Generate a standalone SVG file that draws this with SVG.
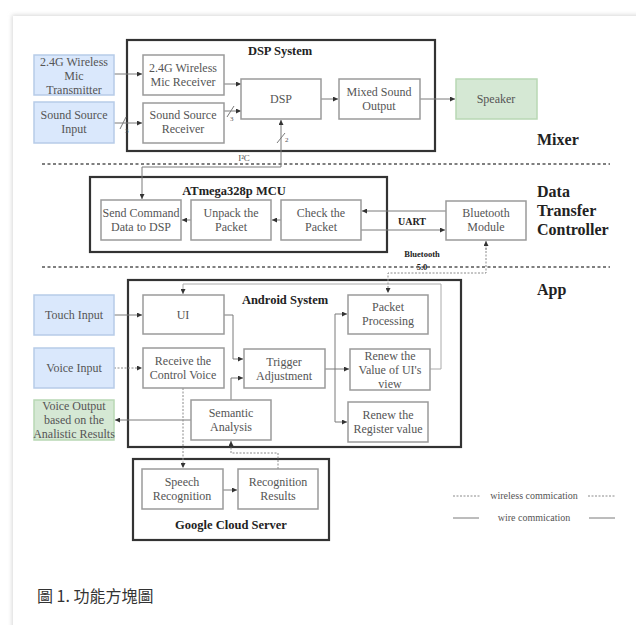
<svg xmlns="http://www.w3.org/2000/svg" width="636" height="625" viewBox="0 0 636 625">
<defs>
<marker id="ah" viewBox="0 0 6 6" refX="6" refY="3" markerWidth="5" markerHeight="5" orient="auto" markerUnits="userSpaceOnUse">
<path d="M0,0 L6,3 L0,6 z" fill="#333"/>
</marker>
<filter id="sh" x="-5%" y="-5%" width="110%" height="110%"><feGaussianBlur stdDeviation="2"/></filter>
</defs>
<style>
.bx{fill:#fff;stroke:#9a9a9a;stroke-width:1.5}
.blue{fill:#dae8fc;stroke:#b7cbe8;stroke-width:1.5}
.green{fill:#d5e8d4;stroke:#b8d8b4;stroke-width:1.5}
.grp{fill:none;stroke:#333;stroke-width:2.2}
.t{font-family:"Liberation Serif",serif;font-size:12px;fill:#555;text-anchor:middle}
.h{font-family:"Liberation Serif",serif;font-weight:bold;font-size:12.5px;fill:#222;text-anchor:middle}
.big{font-family:"Liberation Serif",serif;font-weight:bold;font-size:16px;fill:#222}
.sm{font-family:"Liberation Serif",serif;font-size:7px;fill:#555}
.w{fill:none;stroke:#7a7a7a;stroke-width:1}
.wl{fill:none;stroke:#aaa;stroke-width:1}
.d{fill:none;stroke:#8a8a8a;stroke-width:1;stroke-dasharray:2,1.5}
.sep{fill:none;stroke:#555;stroke-width:1.5;stroke-dasharray:3,2.5}
.lg{font-family:"Liberation Serif",serif;font-size:10px;fill:#555;text-anchor:middle}
</style>
<rect x="0" y="0" width="636" height="625" fill="#fff"/>
<rect x="12" y="15" width="640" height="640" fill="#d8d8d8" filter="url(#sh)"/>
<rect x="13" y="16" width="640" height="640" fill="#fff"/>

<!-- separators -->
<line class="sep" x1="42" y1="164" x2="610" y2="164"/>
<line class="sep" x1="42" y1="267" x2="610" y2="267"/>

<!-- group boxes -->
<g id="dsp-system"><rect class="grp" x="127" y="40" width="308" height="111"/><text class="h" x="280" y="55">DSP System</text></g>
<g id="mcu"><rect class="grp" x="90" y="177" width="297" height="75"/><text class="h" x="234" y="195">ATmega328p MCU</text></g>
<g id="android"><rect class="grp" x="128" y="280" width="333" height="167"/><text class="h" x="285" y="304">Android System</text></g>
<g id="google"><rect class="grp" x="133" y="459" width="196" height="81"/><text class="h" x="231" y="529">Google Cloud Server</text></g>

<!-- side labels -->
<text class="big" x="537" y="145">Mixer</text>
<text class="big" x="537" y="197">Data</text>
<text class="big" x="537" y="216">Transfer</text>
<text class="big" x="537" y="235">Controller</text>
<text class="big" x="537" y="295">App</text>

<!-- connectors -->
<g id="connectors">
<line class="w" x1="114" y1="74" x2="142" y2="74" marker-end="url(#ah)"/>
<line class="w" x1="114" y1="123" x2="142" y2="123" marker-end="url(#ah)"/>
<line class="w" x1="120" y1="129" x2="126" y2="117"/>
<text class="sm" x="125" y="133">3</text>
<line class="w" x1="224" y1="84" x2="241" y2="84" marker-end="url(#ah)"/>
<line class="w" x1="224" y1="111" x2="241" y2="111" marker-end="url(#ah)"/>
<line class="w" x1="227" y1="117" x2="234" y2="106"/>
<text class="sm" x="230" y="121">3</text>
<line class="w" x1="321" y1="99" x2="338" y2="99" marker-end="url(#ah)"/>
<line class="w" x1="420" y1="99" x2="455" y2="99" marker-end="url(#ah)"/>
<polyline class="w" points="281,167 281,167 142,167 142,199" marker-end="url(#ah)"/>
<line class="w" x1="281" y1="167" x2="281" y2="120" marker-end="url(#ah)"/>
<line class="w" x1="277" y1="143" x2="285" y2="133"/>
<text class="sm" x="285" y="142">2</text>
<text class="lg" x="244" y="161" style="font-size:9px">I²C</text>
<line class="w" x1="446" y1="211" x2="362" y2="211" marker-end="url(#ah)"/>
<line class="w" x1="361" y1="230" x2="445" y2="230" marker-end="url(#ah)"/>
<text class="h" x="412" y="225" style="font-size:10px">UART</text>
<line class="w" x1="281" y1="220" x2="272" y2="220" marker-end="url(#ah)"/>
<line class="w" x1="191" y1="220" x2="182" y2="220" marker-end="url(#ah)"/>
<polyline class="d" points="486,244 486,273 388,273 388,293" marker-end="url(#ah)"/>
<line class="d" x1="486" y1="250" x2="486" y2="241" marker-end="url(#ah)"/>
<text class="h" x="422" y="257" style="font-size:8.5px">Bluetooth</text>
<text class="h" x="422" y="270" style="font-size:8.5px">5.0</text>
<line class="w" x1="114" y1="315" x2="142" y2="315" marker-end="url(#ah)"/>
<line class="d" x1="114" y1="368" x2="142" y2="368" marker-end="url(#ah)"/>
<polyline class="w" points="224,315 233,315 233,359 243,359" marker-end="url(#ah)"/>
<polyline class="w" points="231,400 231,378 243,378" marker-end="url(#ah)"/>
<line class="w" x1="191" y1="420" x2="115" y2="420" marker-end="url(#ah)"/>
<line class="w" x1="325" y1="369" x2="349" y2="369" marker-end="url(#ah)"/>
<line class="w" x1="335" y1="314" x2="335" y2="422"/>
<line class="w" x1="335" y1="314" x2="347" y2="314" marker-end="url(#ah)"/>
<line class="w" x1="335" y1="422" x2="347" y2="422" marker-end="url(#ah)"/>
<polyline class="wl" points="430,369 441,369 441,284 183,284 183,294" marker-end="url(#ah)"/>
<line class="d" x1="183" y1="388" x2="183" y2="468" marker-end="url(#ah)"/>
<polyline class="d" points="278,469 278,453 231,453 231,441" marker-end="url(#ah)"/>
<line class="w" x1="223" y1="490" x2="237" y2="490" marker-end="url(#ah)"/>
</g>

<!-- nodes -->
<g id="mic-transmitter"><rect class="blue" x="34" y="55" width="80" height="40"/><text class="t" x="74" y="66">2.4G Wireless</text><text class="t" x="74" y="80">Mic</text><text class="t" x="74" y="94">Transmitter</text></g>
<g id="sound-input"><rect class="blue" x="34" y="102" width="80" height="41"/><text class="t" x="74" y="119">Sound Source</text><text class="t" x="74" y="133">Input</text></g>
<g id="mic-receiver"><rect class="bx" x="143" y="55" width="81" height="40"/><text class="t" x="183" y="72">2.4G Wireless</text><text class="t" x="183" y="86">Mic Receiver</text></g>
<g id="sound-receiver"><rect class="bx" x="143" y="103" width="81" height="40"/><text class="t" x="183" y="119">Sound Source</text><text class="t" x="183" y="133">Receiver</text></g>
<g id="dsp"><rect class="bx" x="241" y="79" width="80" height="40"/><text class="t" x="281" y="103">DSP</text></g>
<g id="mixed-output"><rect class="bx" x="339" y="79" width="81" height="40"/><text class="t" x="379" y="96">Mixed Sound</text><text class="t" x="379" y="110">Output</text></g>
<g id="speaker"><rect class="green" x="456" y="79" width="81" height="40"/><text class="t" x="496" y="103">Speaker</text></g>

<g id="send-command"><rect class="bx" x="101" y="200" width="80" height="40"/><text class="t" x="141" y="217">Send Command</text><text class="t" x="141" y="231">Data to DSP</text></g>
<g id="unpack"><rect class="bx" x="191" y="200" width="80" height="40"/><text class="t" x="231" y="217">Unpack the</text><text class="t" x="231" y="231">Packet</text></g>
<g id="check"><rect class="bx" x="281" y="200" width="80" height="40"/><text class="t" x="321" y="217">Check the</text><text class="t" x="321" y="231">Packet</text></g>
<g id="bluetooth"><rect class="bx" x="446" y="201" width="80" height="39"/><text class="t" x="486" y="217">Bluetooth</text><text class="t" x="486" y="231">Module</text></g>

<g id="touch-input"><rect class="blue" x="34" y="295" width="80" height="40"/><text class="t" x="74" y="319">Touch Input</text></g>
<g id="voice-input"><rect class="blue" x="34" y="348" width="80" height="40"/><text class="t" x="74" y="372">Voice Input</text></g>
<g id="voice-output"><rect class="green" x="34" y="400" width="80" height="40"/><text class="t" x="74" y="410">Voice Output</text><text class="t" x="74" y="424">based on the</text><text class="t" x="74" y="438">Analistic Results</text></g>
<g id="ui"><rect class="bx" x="143" y="295" width="81" height="39"/><text class="t" x="183" y="319">UI</text></g>
<g id="receive-voice"><rect class="bx" x="143" y="348" width="81" height="40"/><text class="t" x="183" y="365">Receive the</text><text class="t" x="183" y="379">Control Voice</text></g>
<g id="trigger"><rect class="bx" x="244" y="349" width="81" height="39"/><text class="t" x="284" y="366">Trigger</text><text class="t" x="284" y="380">Adjustment</text></g>
<g id="semantic"><rect class="bx" x="191" y="400" width="80" height="40"/><text class="t" x="231" y="417">Semantic</text><text class="t" x="231" y="431">Analysis</text></g>
<g id="packet-processing"><rect class="bx" x="348" y="295" width="80" height="39"/><text class="t" x="388" y="311">Packet</text><text class="t" x="388" y="325">Processing</text></g>
<g id="renew-ui"><rect class="bx" x="350" y="349" width="80" height="41"/><text class="t" x="390" y="360">Renew the</text><text class="t" x="390" y="374">Value of UI's</text><text class="t" x="390" y="388">view</text></g>
<g id="renew-register"><rect class="bx" x="348" y="402" width="80" height="40"/><text class="t" x="388" y="419">Renew the</text><text class="t" x="388" y="433">Register value</text></g>

<g id="speech-recognition"><rect class="bx" x="142" y="469" width="81" height="40"/><text class="t" x="182" y="486">Speech</text><text class="t" x="182" y="500">Recognition</text></g>
<g id="recognition-results"><rect class="bx" x="238" y="469" width="80" height="40"/><text class="t" x="278" y="486">Recognition</text><text class="t" x="278" y="500">Results</text></g>

<!-- legend -->
<g id="legend">
<line class="d" x1="453" y1="496" x2="480" y2="496"/>
<line class="d" x1="588" y1="496" x2="615" y2="496"/>
<text class="lg" x="534" y="499">wireless commication</text>
<line class="w" x1="453" y1="518" x2="479" y2="518"/>
<line class="w" x1="589" y1="518" x2="615" y2="518"/>
<text class="lg" x="534" y="521">wire commication</text>
</g>

<text x="37" y="602" style="font-family:'Noto Sans CJK TC','Noto Sans',sans-serif;font-size:16px;fill:#333">圖 1. 功能方塊圖</text>
</svg>
